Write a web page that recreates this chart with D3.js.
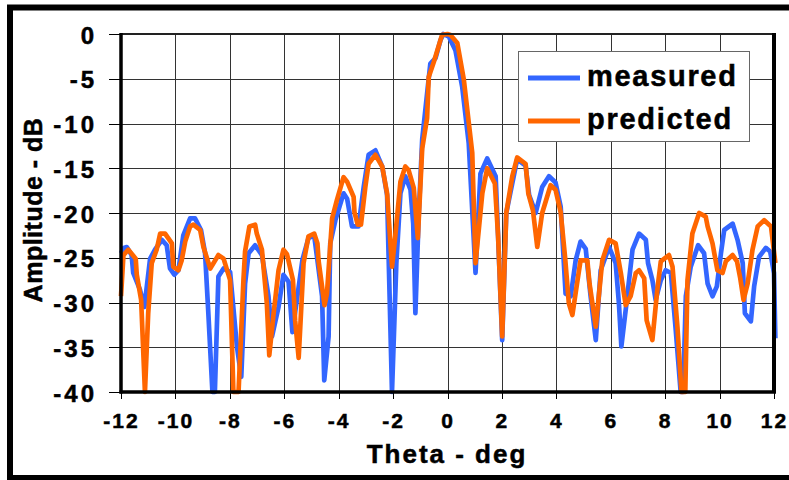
<!DOCTYPE html>
<meta charset="utf-8">
<style>
    body {
        margin: 0;
        background-color: #fff;
    }

    text {
        font-family: "Liberation Sans", Arial, Helvetica, sans-serif;
        font-weight: bold;
        fill: #000;
        stroke: #000;
        stroke-width: 0.5px;
    }

    .grid line {
        stroke: #333;
        stroke-width: 1px;
        shape-rendering: crispEdges;
    }

    .axis .domain {
        display: none;
    }

    .axis line {
        stroke: #000;
        stroke-width: 1px;
        shape-rendering: crispEdges;
    }

    .series {
        fill: none;
        stroke-width: 4.7px;
        stroke-linejoin: round;
    }
</style>

<body>
    <script src="https://d3js.org/d3.v7.min.js"></script>
    <script>

        // tick values
        var thetaTicks = [-12, -10, -8, -6, -4, -2, 0, 2, 4, 6, 8, 10, 12];
        var dbTicks = [0, -5, -10, -15, -20, -25, -30, -35, -40];

        // legend entries
        var seriesNames = ["measured", "predicted"];

        // [theta deg, amplitude dB]
        var measured = [
            [-12.00, -24.5], [-11.90, -23.9], [-11.79, -23.8], [-11.61, -24.7], [-11.55, -26.7],
            [-11.30, -28.6], [-11.14, -30.5], [-10.93, -25.1], [-10.75, -24.1], [-10.50, -23.0],
            [-10.32, -23.6], [-10.20, -26.2], [-10.04, -26.9], [-9.89, -26.4], [-9.71, -22.5],
            [-9.46, -20.6], [-9.28, -20.6], [-9.06, -21.9], [-8.91, -24.5], [-8.79, -31.2],
            [-8.64, -40.0], [-8.55, -40.0], [-8.42, -27.1], [-8.23, -26.2], [-7.99, -26.6],
            [-7.74, -34.9], [-7.58, -38.3], [-7.44, -27.9], [-7.31, -24.5], [-7.07, -23.6],
            [-6.82, -24.7], [-6.58, -29.3], [-6.45, -33.8], [-6.21, -30.5], [-6.03, -26.9],
            [-5.84, -27.7], [-5.70, -33.3], [-5.33, -25.2], [-5.11, -22.8], [-4.90, -22.5],
            [-4.78, -25.3], [-4.61, -29.3], [-4.53, -38.7], [-4.37, -33.8], [-4.31, -23.4],
            [-4.12, -20.8], [-3.82, -17.8], [-3.69, -18.4], [-3.51, -21.5], [-3.27, -21.5],
            [-3.08, -17.1], [-2.90, -13.5], [-2.65, -13.0], [-2.40, -14.8], [-2.22, -18.0],
            [-2.04, -40.0], [-1.88, -25.6], [-1.73, -17.8], [-1.55, -15.9], [-1.36, -17.4],
            [-1.26, -21.2], [-1.18, -31.2], [-1.06, -20.4], [-0.93, -11.8], [-0.73, -6.1],
            [-0.63, -3.3], [-0.44, -2.7], [-0.26, -0.7], [-0.15, 0.0], [0.05, -0.3],
            [0.29, -1.8], [0.54, -5.9], [0.78, -12.2], [1.03, -26.7], [1.21, -15.6],
            [1.46, -13.9], [1.77, -15.9], [1.86, -22.6], [2.01, -34.2], [2.16, -20.0],
            [2.56, -14.0], [2.87, -14.7], [3.00, -18.0], [3.24, -20.0], [3.48, -17.1],
            [3.73, -15.9], [3.97, -16.6], [4.16, -19.3], [4.34, -29.0], [4.53, -29.3],
            [4.71, -25.3], [4.89, -23.2], [5.08, -24.0], [5.26, -29.3], [5.45, -34.2],
            [5.63, -26.4], [5.94, -23.8], [6.18, -25.6], [6.30, -30.1], [6.39, -34.9],
            [6.55, -30.8], [6.80, -24.1], [7.04, -22.3], [7.29, -23.0], [7.37, -25.6],
            [7.53, -27.5], [7.65, -29.7], [7.84, -27.5], [8.02, -26.4], [8.21, -26.7],
            [8.39, -33.1], [8.57, -40.0], [8.66, -40.0], [8.76, -29.3], [8.94, -26.0],
            [9.21, -23.6], [9.43, -24.5], [9.56, -27.9], [9.74, -29.3], [9.90, -28.2],
            [10.05, -24.5], [10.17, -21.9], [10.48, -21.2], [10.66, -23.0], [10.85, -25.6],
            [10.93, -31.2], [11.15, -32.1], [11.27, -28.2], [11.45, -24.9], [11.70, -23.9],
            [11.86, -24.3], [12.00, -26.7], [12.05, -34.0]
        ];

        var predicted = [
            [-12.00, -29.3], [-11.91, -24.7], [-11.73, -24.1], [-11.46, -25.1], [-11.42, -26.9],
            [-11.26, -29.7], [-11.12, -40.0], [-11.00, -31.2], [-10.87, -25.6], [-10.69, -24.1],
            [-10.56, -22.3], [-10.38, -22.3], [-10.13, -23.4], [-10.08, -26.0], [-9.89, -26.4],
            [-9.77, -25.3], [-9.64, -23.2], [-9.46, -21.5], [-9.34, -21.3], [-9.09, -21.9],
            [-8.97, -23.8], [-8.72, -26.2], [-8.42, -24.7], [-8.23, -25.1], [-7.99, -27.5],
            [-7.87, -40.0], [-7.68, -40.0], [-7.50, -27.5], [-7.44, -24.3], [-7.28, -21.5],
            [-7.07, -21.3], [-7.01, -22.3], [-6.82, -24.1], [-6.64, -30.1], [-6.55, -35.9],
            [-6.39, -31.2], [-6.21, -26.4], [-6.03, -24.1], [-5.90, -24.6], [-5.68, -27.5],
            [-5.60, -32.0], [-5.47, -36.2], [-5.29, -25.6], [-5.11, -22.6], [-4.90, -22.3],
            [-4.78, -23.4], [-4.74, -25.3], [-4.52, -30.3], [-4.43, -29.0], [-4.24, -20.6],
            [-4.06, -18.5], [-3.82, -16.0], [-3.69, -16.5], [-3.45, -18.2], [-3.42, -19.9],
            [-3.30, -21.3], [-3.18, -21.3], [-3.02, -17.1], [-2.90, -14.5], [-2.65, -13.5],
            [-2.40, -14.8], [-2.22, -17.8], [-2.04, -26.0], [-1.92, -22.6], [-1.73, -16.5],
            [-1.55, -14.8], [-1.43, -15.2], [-1.24, -17.2], [-1.09, -22.8], [-0.93, -12.8],
            [-0.75, -9.4], [-0.69, -4.8], [-0.50, -3.1], [-0.20, -0.1], [0.00, 0.0],
            [0.11, -0.1], [0.36, -1.0], [0.60, -5.1], [0.91, -13.3], [1.03, -25.6],
            [1.28, -17.8], [1.46, -15.0], [1.74, -16.7], [1.86, -22.6], [2.01, -33.8],
            [2.16, -20.0], [2.38, -15.9], [2.56, -13.8], [2.87, -14.5], [2.97, -17.8],
            [3.14, -19.7], [3.30, -23.8], [3.48, -20.0], [3.79, -16.9], [3.97, -17.4],
            [4.16, -19.9], [4.32, -24.9], [4.46, -30.1], [4.59, -31.4], [4.77, -27.7],
            [4.89, -25.3], [5.14, -25.3], [5.22, -27.9], [5.45, -32.7], [5.69, -25.3],
            [5.94, -23.0], [6.18, -23.4], [6.37, -26.7], [6.55, -30.3], [6.73, -29.3],
            [6.92, -26.7], [7.04, -26.4], [7.23, -27.3], [7.32, -32.0], [7.53, -34.2],
            [7.71, -28.6], [7.84, -25.4], [8.14, -24.7], [8.27, -26.0], [8.45, -32.7],
            [8.60, -40.0], [8.74, -40.0], [8.82, -27.5], [9.00, -22.3], [9.25, -20.0],
            [9.49, -20.4], [9.56, -21.5], [9.74, -23.4], [9.92, -26.4], [10.11, -26.7],
            [10.23, -25.4], [10.48, -24.7], [10.64, -25.4], [10.76, -27.3], [10.88, -29.7],
            [11.03, -27.9], [11.21, -24.1], [11.40, -21.5], [11.64, -20.8], [11.89, -21.5],
            [12.05, -25.6]
        ];

        var colors = ["#3366ff", "#ff6600"];

        var width = 789,
            height = 480,
            plotLeft = 121,
            plotTop = 34,
            plotRight = 774,
            plotBottom = 392;

        var x = d3.scaleLinear().domain([-12, 12]).range([plotLeft, plotRight]);
        var y = d3.scaleLinear().domain([-40, 0]).range([plotBottom, plotTop]);

        var svg = d3.select("body").append("svg")
            .attr("width", width)
            .attr("height", height);

        // outer frame (runs off the right and bottom edges)
        svg.append("rect")
            .attr("x", 10).attr("y", 7.5)
            .attr("width", 800).attr("height", 470.5)
            .attr("fill", "#fff")
            .attr("stroke", "#000")
            .attr("stroke-width", 6);

        // grid
        svg.append("g")
            .attr("class", "grid")
            .attr("transform", "translate(" + plotLeft + ",0)")
            .call(d3.axisLeft(y).tickValues(dbTicks).tickSize(-(plotRight - plotLeft)).tickFormat(""))
            .call(function (g) { g.select(".domain").remove(); });

        svg.append("g")
            .attr("class", "grid")
            .attr("transform", "translate(0," + plotBottom + ")")
            .call(d3.axisBottom(x).tickValues(thetaTicks).tickSize(-(plotBottom - plotTop)).tickFormat(""))
            .call(function (g) { g.select(".domain").remove(); });

        // series
        var line = d3.line()
            .x(function (d) { return x(d[0]); })
            .y(function (d) { return y(d[1]); });

        [measured, predicted].forEach(function (data, i) {
            svg.append("path")
                .datum(data)
                .attr("class", "series")
                .attr("stroke", colors[i])
                .attr("d", line);
        });

        // plot frame
        svg.append("line")
            .attr("x1", plotLeft).attr("x2", plotRight).attr("y1", plotTop).attr("y2", plotTop)
            .attr("stroke", "#222").attr("stroke-width", 2);
        svg.append("line")
            .attr("x1", plotRight).attr("x2", plotRight).attr("y1", plotTop - 1).attr("y2", plotBottom)
            .attr("stroke", "#000").attr("stroke-width", 4);
        svg.append("line")
            .attr("x1", plotLeft).attr("x2", plotLeft).attr("y1", plotTop - 1).attr("y2", plotBottom + 1.5)
            .attr("stroke", "#000").attr("stroke-width", 3.5);
        svg.append("line")
            .attr("x1", plotLeft - 1.5).attr("x2", plotRight + 2).attr("y1", plotBottom).attr("y2", plotBottom)
            .attr("stroke", "#000").attr("stroke-width", 3.5);

        // axes
        var yAxis = svg.append("g")
            .attr("class", "axis")
            .attr("transform", "translate(" + plotLeft + ",0)")
            .call(d3.axisLeft(y).tickValues(dbTicks).tickSize(12).tickPadding(12)
                .tickFormat(function (d) { return String(d); }));
        yAxis.selectAll("text")
            .style("font-size", "24px")
            .style("letter-spacing", "3px")
            .attr("dy", "0.38em");

        var xAxis = svg.append("g")
            .attr("class", "axis")
            .attr("transform", "translate(0," + plotBottom + ")")
            .call(d3.axisBottom(x).tickValues(thetaTicks).tickSize(7).tickPadding(14)
                .tickFormat(function (d) { return String(d); }));
        xAxis.selectAll("text")
            .style("font-size", "21px")
            .style("letter-spacing", "2px");

        // axis titles
        svg.append("text")
            .attr("x", 447).attr("y", 463)
            .attr("text-anchor", "middle")
            .style("font-size", "26px")
            .style("letter-spacing", "2px")
            .text("Theta - deg");

        svg.append("text")
            .attr("transform", "translate(42,210) rotate(-90)")
            .attr("text-anchor", "middle")
            .style("font-size", "25px")
            .style("letter-spacing", "0.5px")
            .text("Amplitude - dB");

        // legend
        var legend = svg.append("g");
        legend.append("rect")
            .attr("x", 518.5).attr("y", 51.5)
            .attr("width", 231).attr("height", 90)
            .attr("fill", "#fff")
            .attr("stroke", "#666")
            .attr("stroke-width", 1);

        seriesNames.forEach(function (name, i) {
            var ly = 78 + i * 43;
            legend.append("line")
                .attr("x1", 528).attr("x2", 580)
                .attr("y1", ly).attr("y2", ly)
                .attr("stroke", colors[i])
                .attr("stroke-width", 5);
            legend.append("text")
                .attr("x", 587).attr("y", ly + 8)
                .style("font-size", "29px")
                .style("letter-spacing", "1.7px")
                .text(name);
        });

    </script>
</body>
